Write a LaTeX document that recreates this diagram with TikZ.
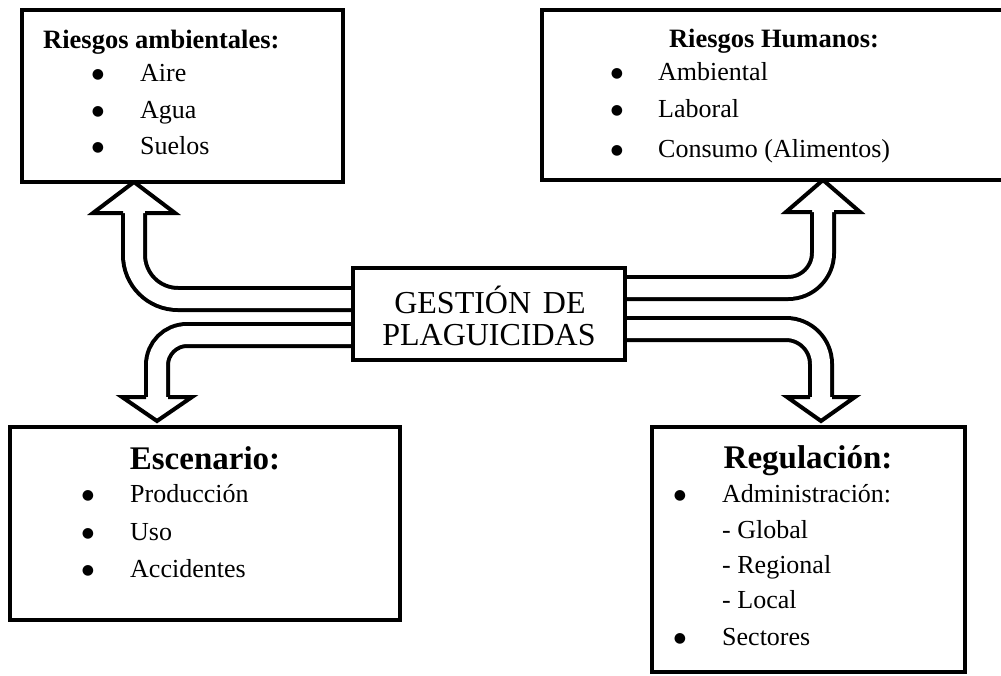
\documentclass[tikz,border=0pt]{standalone}
\usepackage{fontspec}
\setmainfont{Liberation Serif}
\newfontfamily\dotfont{DejaVu Sans}
\usetikzlibrary{backgrounds}

\begin{document}
\begin{tikzpicture}[x=1pt,y=-1pt,
  box/.style={draw=black, line width=4.5pt, fill=white, inner sep=0pt,
    outer sep=0pt, anchor=north west},
  shaft/.style={draw=black, line width=4pt, double=white, double distance=18pt},
  head/.style={draw=black, fill=white, line width=4pt, line join=miter},
  item/.style={anchor=base west, inner sep=0pt, font=\fontsize{26}{30}\selectfont},
  bulletmark/.style={anchor=center, inner sep=0pt, font=\dotfont\fontsize{14}{14}\selectfont},
  title/.style={anchor=base, inner sep=0pt, font=\fontsize{26.5}{30}\selectfont\bfseries},
  bigtitle/.style={anchor=base, inner sep=0pt, font=\fontsize{33}{36}\selectfont\bfseries},
  core/.style={anchor=base, inner sep=0pt, font=\fontsize{32}{34}\selectfont}]

\useasboundingbox (0,0) rectangle (1001,675);

% boxes
\node[box, minimum width=321pt, minimum height=172pt] (amb) at (22,10) {};
\node[box, minimum width=464pt, minimum height=170pt] (hum) at (542,10) {};
\node[box, minimum width=272pt, minimum height=92pt]  (gp)  at (353,268) {};
\node[box, minimum width=390pt, minimum height=193pt] (esc) at (10,427) {};
\node[box, minimum width=313pt, minimum height=245pt] (reg) at (652,427) {};

% central box text
\node[core] (gp1) at (490,313) {GESTIÓN\hspace{0.12em} DE};
\node[core] (gp2) at (489,345) {PLAGUICIDAS};

% environmental risks
\node[title, anchor=base west] (ambt) at (43,48) {Riesgos ambientales:};
\node[bulletmark] (ambb1) at (98,75) {●};
\node[bulletmark] (ambb2) at (98,112) {●};
\node[bulletmark] (ambb3) at (98,148) {●};
\node[item] (amb1) at (140,81) {Aire};
\node[item] (amb2) at (140,118) {Agua};
\node[item] (amb3) at (140,154) {Suelos};

% human risks
\node[title] (humt) at (774,47) {Riesgos Humanos:};
\node[bulletmark] (humb1) at (617,74) {●};
\node[bulletmark] (humb2) at (617,111) {●};
\node[bulletmark] (humb3) at (617,151) {●};
\node[item] (hum1) at (658,80) {Ambiental};
\node[item] (hum2) at (658,117) {Laboral};
\node[item] (hum3) at (658,157) {Consumo (Alimentos)};

% scenario
\node[bigtitle] (esct) at (205,469) {Escenario:};
\node[bulletmark] (escb1) at (88,496) {●};
\node[bulletmark] (escb2) at (88,534) {●};
\node[bulletmark] (escb3) at (88,571) {●};
\node[item] (esc1) at (130,502) {Producción};
\node[item] (esc2) at (130,540) {Uso};
\node[item] (esc3) at (130,577) {Accidentes};

% regulation
\node[bigtitle] (regt) at (808,468) {Regulación:};
\node[bulletmark] (regb1) at (680,496) {●};
\node[bulletmark] (regb2) at (680,639) {●};
\node[item] (reg1) at (722,502) {Administración:};
\node[item] (reg2) at (722,538) {- Global};
\node[item] (reg3) at (722,573) {- Regional};
\node[item] (reg4) at (722,608) {- Local};
\node[item] (reg5) at (722,645) {Sectores};

% hollow block arrows leaving the central box
\begin{pgfonlayer}{background}
  % to the environmental risks
  \draw[shaft, rounded corners=44pt] (gp.center |- 0,299) -| (134,211);
  \draw[head] (123,213) -- (93,213) -- (amb.south -| 134,0) -- (175,213) -- (145,213);
  % to the human risks
  \draw[shaft, rounded corners=35pt] (gp.center |- 0,288) -| (823,210);
  \draw[head] (812,212) -- (786,212) -- (hum.south -| 823,0) -- (860,212) -- (834,212);
  % to the scenario
  \draw[shaft, rounded corners=30pt] (gp.center |- 0,335) -| (157,399);
  \draw[head] (146,397) -- (122,397) -- (157,421) -- (192,397) -- (168,397);
  % to the regulation
  \draw[shaft, rounded corners=35pt] (gp.center |- 0,329) -| (821,399);
  \draw[head] (810,397) -- (787,397) -- (821,421) -- (855,397) -- (832,397);
\end{pgfonlayer}
\end{tikzpicture}
\end{document}
